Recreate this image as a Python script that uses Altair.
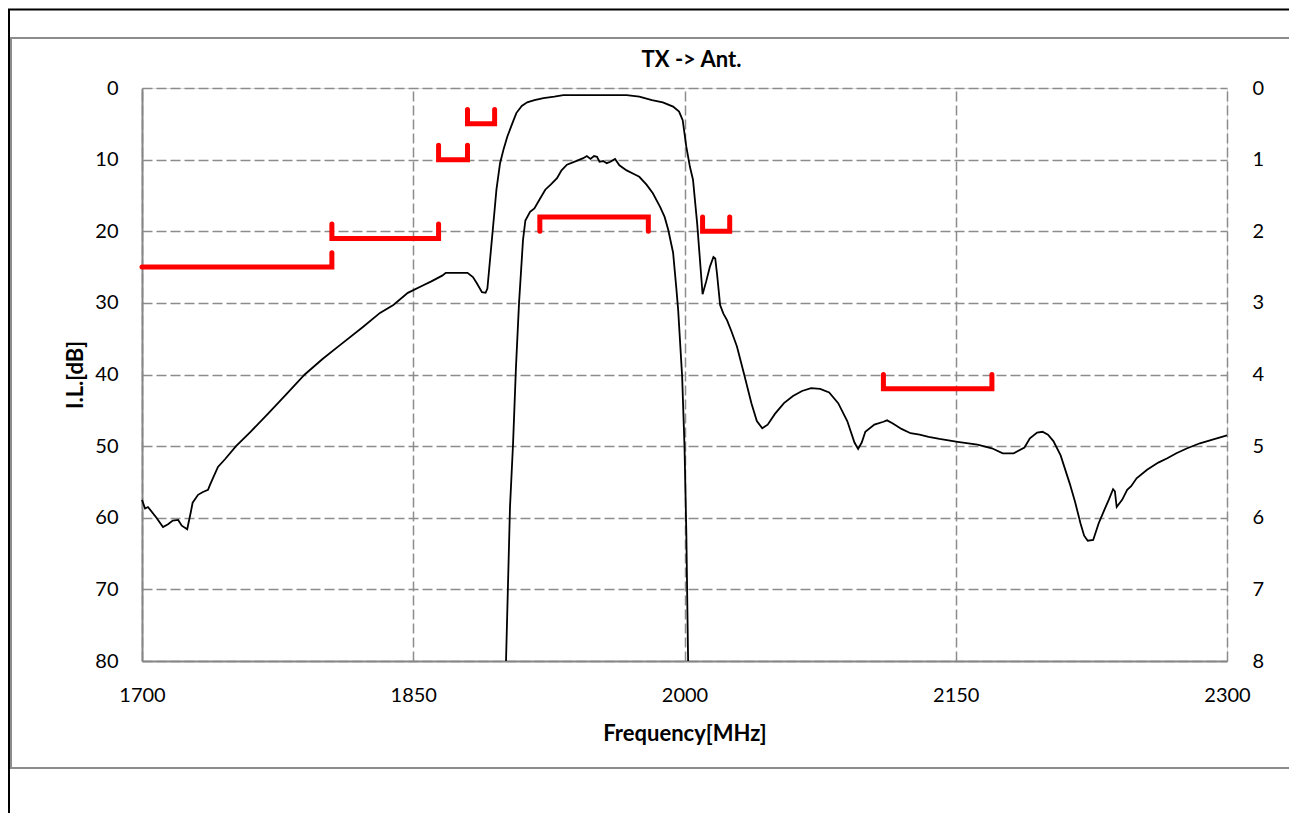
import altair as alt
import pandas as pd

# ---- outer curve (left axis, dB) ----
outer_f = [1700, 1701.7, 1703.3, 1708, 1711.6, 1714.4, 1717, 1720, 1722, 1725, 1727, 1728,
           1731, 1733.7, 1736.5, 1737.6, 1739, 1742, 1746, 1752, 1760, 1770, 1780, 1790,
           1800, 1810, 1822, 1831.6, 1839, 1847, 1855, 1860, 1866, 1868, 1880, 1883,
           1885, 1888, 1890, 1891, 1893, 1895, 1896, 1898, 1900, 1902, 1905, 1907, 1910,
           1913, 1917, 1922, 1928, 1933, 1950, 1968, 1975, 1982, 1988, 1993.7, 1997, 1999,
           2001, 2003, 2004.7, 2007, 2010, 2012, 2014, 2016, 2017, 2018, 2019.7, 2021.5,
           2023.5, 2026, 2029, 2033, 2037, 2040, 2043, 2046, 2050, 2055, 2060, 2065, 2070,
           2075, 2080, 2085, 2090, 2094, 2096, 2098, 2100, 2105, 2110, 2112, 2115, 2120,
           2125, 2130, 2135, 2141, 2151, 2162, 2170, 2176, 2182, 2188, 2191, 2195, 2198,
           2201, 2204, 2208, 2213, 2216, 2219, 2221, 2223, 2226, 2229, 2232, 2234.6, 2237,
           2238, 2239, 2242, 2244.8, 2247, 2250, 2255.8, 2262, 2267, 2272, 2278, 2285,
           2292, 2300]
outer_db = [57.5, 58.7, 58.5, 60.0, 61.3, 60.9, 60.4, 60.3, 61.1, 61.6, 59.2, 57.9,
            56.8, 56.4, 56.1, 55.4, 54.6, 52.9, 51.8, 50.0, 48.0, 45.4, 42.7, 40.0,
            37.8, 35.8, 33.4, 31.4, 30.3, 28.6, 27.6, 27.0, 26.2, 25.8, 25.8, 26.4,
            27.2, 28.5, 28.6, 28.0, 22.5, 17.0, 14.2, 10.5, 8.5, 6.8, 4.8, 3.5, 2.5,
            2.0, 1.7, 1.4, 1.2, 1.0, 1.0, 1.0, 1.2, 1.7, 2.0, 2.6, 3.3, 4.5,
            8.2, 11.0, 12.8, 18.9, 28.8, 27.0, 25.0, 23.6, 23.8, 26.0, 30.3, 31.5,
            32.4, 34.0, 36.1, 40.0, 44.0, 46.5, 47.5, 47.0, 45.5, 44.0, 43.0, 42.3, 41.9,
            42.0, 42.5, 44.0, 46.5, 49.5, 50.4, 49.5, 48.0, 47.0, 46.6, 46.4, 46.8, 47.6,
            48.2, 48.4, 48.7, 49.0, 49.4, 49.8, 50.3, 51.0, 51.0, 50.2, 48.9, 48.1, 48.0,
            48.4, 49.3, 51.3, 55.2, 57.8, 60.8, 62.5, 63.2, 63.1, 60.8, 59.0, 57.5, 56.0,
            56.3, 58.5, 57.5, 56.1, 55.6, 54.5, 53.3, 52.3, 51.7, 51.0, 50.3, 49.6,
            49.1, 48.5]

# ---- passband zoom curve (right axis, dB) ----
inner_f = [1901.3, 1903.5, 1905.2, 1906.8, 1908.5, 1909.5, 1910.7, 1912, 1914.6, 1917,
           1920, 1923, 1926, 1929.5, 1932, 1935, 1940, 1944, 1946, 1948, 1950, 1951.6,
           1953, 1955, 1957, 1959, 1961.6, 1964, 1968, 1972, 1975, 1979, 1982.5, 1986.5,
           1989, 1991, 1993.7, 1995.5, 1996.5, 1998.7, 2000, 2001, 2002]
inner_db = [8.0, 5.85, 4.96, 3.9, 3.0, 2.6, 2.12, 1.85, 1.73, 1.68,
            1.55, 1.42, 1.35, 1.26, 1.15, 1.07, 1.02, 0.98, 0.95, 0.99, 0.95, 0.96,
            1.03, 1.02, 1.05, 1.03, 0.99, 1.08, 1.15, 1.2, 1.24, 1.35, 1.47, 1.66,
            1.8, 1.98, 2.3, 2.8, 3.1, 4.03, 5.0, 6.2, 8.0]

# ---- specification masks ----
stop_start = [1700, 1805, 1864, 1880, 2010, 2110]
stop_end = [1805, 1864, 1880, 1895, 2025, 2170]
stop_level = [25, 21, 10, 5, 20, 42]
stop_left_tick = [False, True, True, True, True, True]
pass_start = [1920]
pass_end = [1980]
pass_level = [1.8]

x_ticks = [1700, 1850, 2000, 2150, 2300]
left_ticks = [0, 10, 20, 30, 40, 50, 60, 70, 80]
right_ticks = [0, 1, 2, 3, 4, 5, 6, 7, 8]

FONT = "Lato"
GRID = "#8c8c8c"
W, H = 1085, 573

outer_df = pd.DataFrame({"f": outer_f, "v": outer_db})
inner_df = pd.DataFrame({"f": inner_f, "v": inner_db})

rows = []
for i, (a, b, l, lt) in enumerate(zip(stop_start, stop_end, stop_level, stop_left_tick)):
    pts = []
    if lt:
        pts.append((a, l - 2))
    pts += [(a, l), (b, l), (b, l - 2)]
    for k, (f, v) in enumerate(pts):
        rows.append({"m": i, "k": k, "f": f, "v": v})
stop_df = pd.DataFrame(rows)

rows = []
for i, (a, b, l) in enumerate(zip(pass_start, pass_end, pass_level)):
    for k, (f, v) in enumerate([(a, l + 0.2), (a, l), (b, l), (b, l + 0.2)]):
        rows.append({"m": i, "k": k, "f": f, "v": v})
pass_df = pd.DataFrame(rows)

xscale = alt.Scale(domain=[1700, 2300], nice=False, zero=False)
yl_scale = alt.Scale(domain=[0, 80], reverse=True, nice=False)
yr_scale = alt.Scale(domain=[0, 8], reverse=True, nice=False)

x_axis = alt.Axis(values=x_ticks, format="d", title="Frequency[MHz]", labelFont=FONT,
                  labelFontSize=20, labelColor="#000", labelPadding=24, ticks=False,
                  domainColor="#868686", domainWidth=2, grid=True, gridColor=GRID,
                  gridDash=[10, 4], gridWidth=1.5, titleFont=FONT, titleFontSize=22,
                  titleFontWeight="bold", titleColor="#000", titleY=72,
                  titleBaseline="middle", labelFlush=False)
yl_axis = alt.Axis(values=left_ticks, format="d", title="I.L.[dB]", orient="left",
                   labelFont=FONT, labelFontSize=20, labelColor="#000", labelPadding=24,
                   ticks=False, domainColor="#868686", domainWidth=2, grid=True,
                   gridColor=GRID, gridDash=[10, 4], gridWidth=1.5, titleFont=FONT,
                   titleFontSize=22, titleFontWeight="bold", titleColor="#000",
                   titleX=-67, titleY=H / 2, titleAngle=270, titleAlign="center",
                   titleBaseline="middle", labelFlush=False)
yr_axis = alt.Axis(values=right_ticks, format="d", title="", orient="right",
                   labelFont=FONT, labelFontSize=20, labelColor="#000", labelPadding=25,
                   ticks=False, domain=False, grid=False, labelFlush=False)

frame_df = pd.DataFrame({"a": [0]})
outer_frame = alt.Chart(frame_df).mark_rect(fill=None, stroke="#000", strokeWidth=2).encode(
    x=alt.value(-133), x2=alt.value(1400), y=alt.value(-78.5), y2=alt.value(900))
inner_frame = alt.Chart(frame_df).mark_rect(fill=None, stroke="#8c8c8c", strokeWidth=2).encode(
    x=alt.value(-131), x2=alt.value(1400), y=alt.value(-50), y2=alt.value(680))

outer_line = alt.Chart(outer_df).mark_line(color="#000", strokeWidth=1.8).encode(
    x=alt.X("f:Q", scale=xscale, axis=x_axis),
    y=alt.Y("v:Q", scale=yl_scale, axis=yl_axis))
stop_lines = alt.Chart(stop_df).mark_line(color="#ff0000", strokeWidth=5, strokeCap="round",
                                          strokeJoin="miter").encode(
    x=alt.X("f:Q", scale=xscale),
    y=alt.Y("v:Q", scale=yl_scale),
    detail="m:N", order="k:Q")

left = alt.layer(outer_frame, inner_frame, outer_line, stop_lines)

inner_line = alt.Chart(inner_df).mark_line(color="#000", strokeWidth=1.8).encode(
    x=alt.X("f:Q", scale=xscale),
    y=alt.Y("v:Q", scale=yr_scale, axis=yr_axis))
pass_lines = alt.Chart(pass_df).mark_line(color="#ff0000", strokeWidth=5, strokeCap="round",
                                          strokeJoin="miter").encode(
    x=alt.X("f:Q", scale=xscale),
    y=alt.Y("v:Q", scale=yr_scale),
    detail="m:N", order="k:Q")
right = alt.layer(inner_line, pass_lines)

chart = alt.layer(left, right).resolve_scale(y="independent").properties(
    width=W, height=H,
    title=alt.TitleParams("TX -> Ant.", font=FONT, fontSize=22, fontWeight="bold",
                          color="#000", anchor="middle", frame="group", dx=7, offset=-80,
                          baseline="alphabetic"),
    autosize=alt.AutoSizeParams(type="none"),
    padding={"left": 134, "top": 80, "right": 62, "bottom": 152},
).configure_view(stroke=None).configure(background="#ffffff")

chart.save("out.html", embed_options={"renderer": "svg", "actions": False})
